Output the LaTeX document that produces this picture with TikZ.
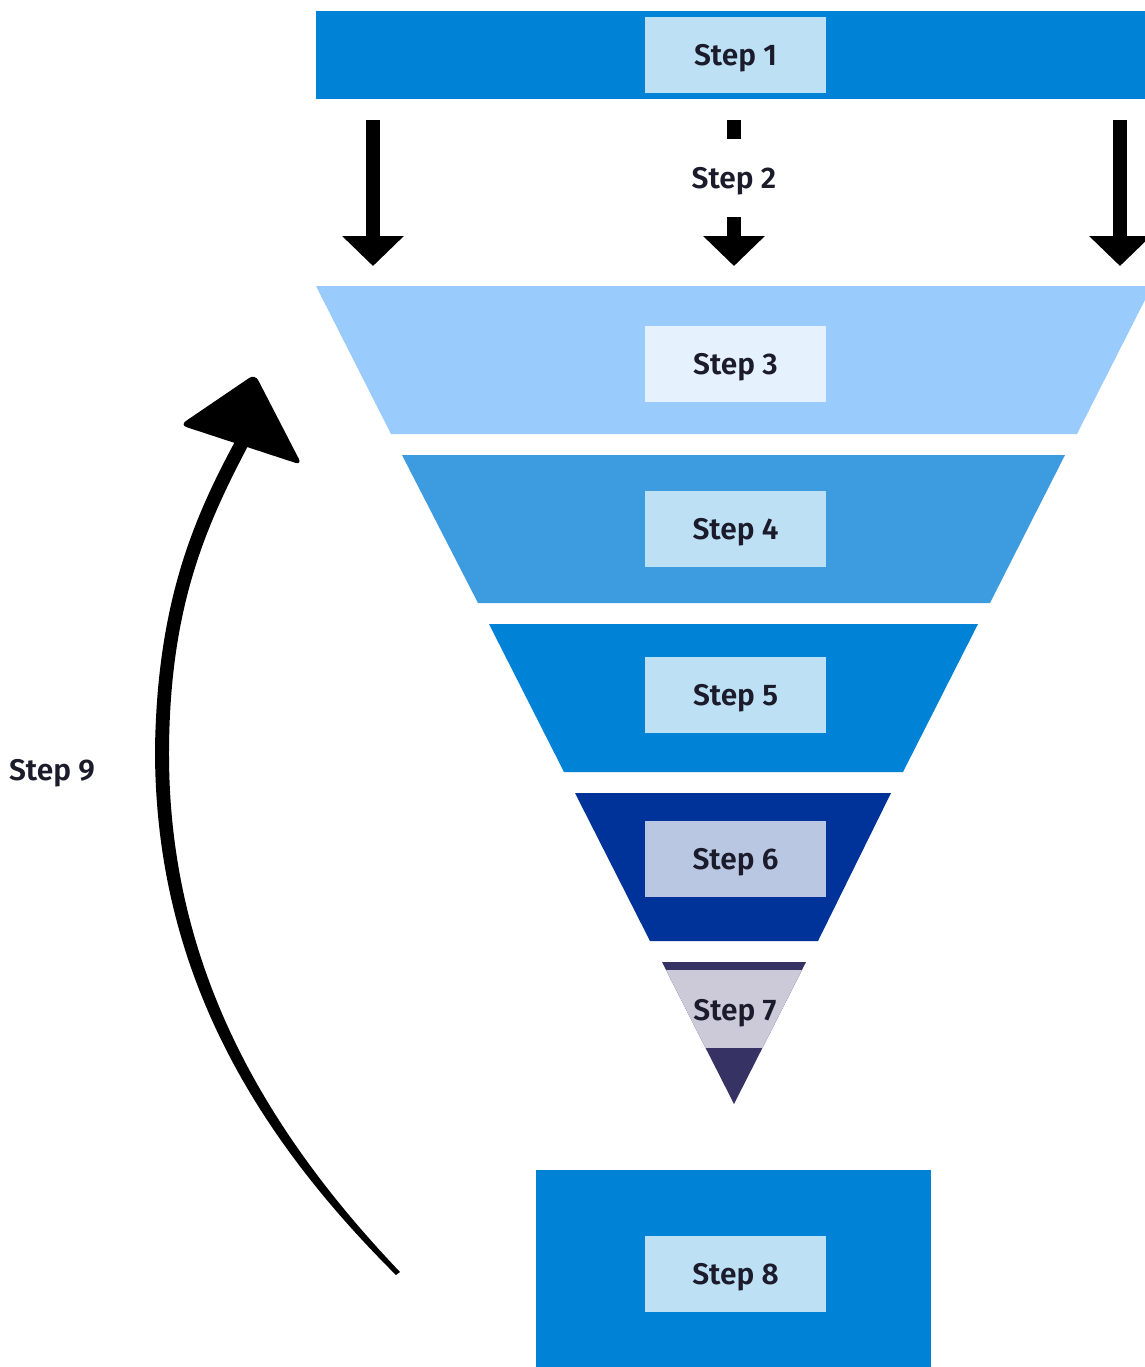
\documentclass[tikz,border=0pt]{standalone}
\usepackage{fontspec}
\setmainfont{Fira Sans}[BoldFont={Fira Sans SemiBold}]
\usepackage{tikz}
\usetikzlibrary{arrows.meta,calc}

\definecolor{barblue}{HTML}{0083D6}
\definecolor{paleblue}{HTML}{99CCFC}
\definecolor{midblue}{HTML}{3D9BDF}
\definecolor{deepblue}{HTML}{00339A}
\definecolor{navy}{HTML}{363264}
\definecolor{lilac}{HTML}{CCCAD9}
\definecolor{tagblue}{HTML}{BDE0F5}
\definecolor{tagpale}{HTML}{E5F2FE}
\definecolor{tagdeep}{HTML}{BAC7E3}
\definecolor{inkdark}{HTML}{1B1B2B}

\begin{document}
\begin{tikzpicture}[x=0.02cm, y=-0.02cm,
  font=\fontsize{17}{20}\selectfont\bfseries, text=inkdark,
  every node/.style={text depth=0pt},
  tag/.style={fill=tagblue, minimum width=3.62cm, minimum height=1.52cm, inner sep=0pt},
  downarrow/.style={line width=7.9pt, -{Triangle[width=34pt, length=17pt]}}]
  \useasboundingbox (0,0) rectangle (1144,1367);

  % top bar
  \fill[barblue] (316,11) rectangle (1152,99);
  \node[tag] (s1) at (735.5,55) {Step 1};

  % funnel
  \fill[paleblue] (316,286) -- (1152,286) -- (1077,434) -- (391,434) -- cycle;
  \node[tag, fill=tagpale] (s3) at (735.5,364) {Step 3};
  \fill[midblue] (402,455) -- (1065,455) -- (990,603) -- (478,603) -- cycle;
  \node[tag] (s4) at (735.5,529) {Step 4};
  \fill[barblue] (489,624) -- (978,624) -- (903,772) -- (564,772) -- cycle;
  \node[tag] (s5) at (735.5,695) {Step 5};
  \fill[deepblue] (575,793) -- (891,793) -- (818,941) -- (650,941) -- cycle;
  \node[tag, fill=tagdeep] (s6) at (735.5,859) {Step 6};
  \begin{scope}
    \clip (662,962) -- (806,962) -- (734,1104) -- cycle;
    \fill[navy] (600,950) rectangle (870,1110);
    \fill[lilac] (600,970) rectangle (870,1048);
  \end{scope}
  \node (s7) at (735,1010) {Step 7};

  % bottom box
  \fill[barblue] (536,1170) rectangle (931,1380);
  \node[tag] (s8) at (735.5,1274) {Step 8};

  % arrows into the funnel
  \coordinate (a1) at (373,120);
  \coordinate (b1) at (373,266);
  \coordinate (a2) at (734,120);
  \coordinate (b2) at (734,266);
  \coordinate (a3) at (1120,120);
  \coordinate (b3) at (1120,266);
  \path[downarrow]
  (a1) edge (b1)
  (a2) edge node [pos=0.4, fill=white, minimum height=1.56cm, inner sep=0pt] (s2) {Step 2} (b2)
  (a3) edge (b3)
  ;

  % loop back
  \coordinate (c0) at (398,1273);
  \fill ($(c0)+(-2,2)$) .. controls (245,1125) and (155,960) .. (155,750)
    .. controls (157,600) and (195,515) .. (238,436) -- (250,442)
    .. controls (208,522) and (170,602) .. (169,750)
    .. controls (168,955) and (255,1120) .. ($(c0)+(2,-1)$) -- cycle;
  \fill[rounded corners=4pt] (180,425) -- (255,374) -- (302,465) -- cycle;
  \node (s9) at (52,770) {Step 9};
\end{tikzpicture}
\end{document}
